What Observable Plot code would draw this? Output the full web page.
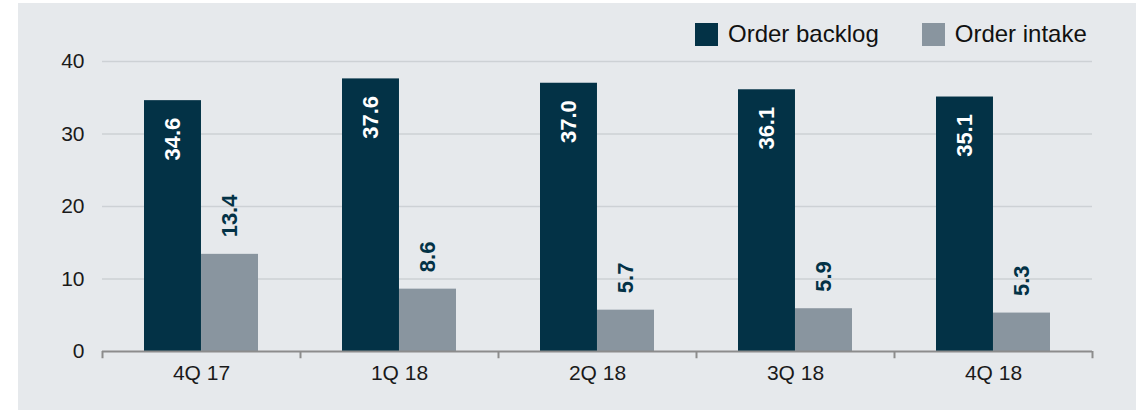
<!DOCTYPE html>
<html>
<head>
<meta charset="utf-8">
<script src="https://cdn.jsdelivr.net/npm/d3@7"></script>
<script src="https://cdn.jsdelivr.net/npm/@observablehq/plot@0.6"></script>
<style>
  html, body { margin: 0; padding: 0; background: #ffffff; }
  #box { position: absolute; left: 18px; top: 3px; width: 1118px; height: 407px; background: #e6e9ec; font-family: "Liberation Sans", Arial, sans-serif; }
  #legend { position: absolute; left: 677px; top: 17px; display: flex; align-items: center; font-size: 24px; color: #111; }
  .item { display: flex; align-items: center; margin-right: 43px; }
  .sw { width: 23px; height: 23px; margin-right: 10px; }
  #chart { position: absolute; left: 0; top: 0; }
</style>
</head>
<body>
<div id="box">
  <div id="chart"></div>
  <div id="legend"></div>
</div>
<script>
const categories = ["4Q 17", "1Q 18", "2Q 18", "3Q 18", "4Q 18"];
const seriesNames = ["Order backlog", "Order intake"];
const backlog = [34.6, 37.6, 37.0, 36.1, 35.1];
const intake = [13.4, 8.6, 5.7, 5.9, 5.3];
const yTicks = [0, 10, 20, 30, 40];
const colors = ["#033246", "#89959f"];

const W = 1118, H = 407, ML = 84, MR = 44, MT = 58, MB = 59;
const step = (W - ML - MR) / categories.length;
const barW = step * 0.576 / 2;

const backRows = categories.map((c, i) => ({cat: c, v: backlog[i]}));
const inRows = categories.map((c, i) => ({cat: c, v: intake[i]}));
const lastCat = [categories[categories.length - 1]];

const font = '"Liberation Sans", Arial, sans-serif';

const chart = Plot.plot({
  width: W, height: H,
  marginLeft: ML, marginRight: MR, marginTop: MT, marginBottom: MB,
  style: {background: "transparent", fontFamily: font, fontSize: "21px", color: "#1a1a1a", overflow: "visible"},
  x: {domain: categories, paddingInner: 0.424, paddingOuter: 0.212, label: null, tickSize: 0, tickPadding: 14},
  y: {domain: [0, 40], ticks: yTicks, label: null, tickSize: 0, tickPadding: 18},
  marks: [
    Plot.gridY(yTicks.filter(t => t > 0), {stroke: "#cdd1d5", strokeOpacity: 1, strokeWidth: 1.6}),
    Plot.barY(backRows, {x: "cat", y: "v", fill: colors[0], insetRight: barW, insetLeft: 0}),
    Plot.barY(inRows, {x: "cat", y: "v", fill: colors[1], insetLeft: barW, insetRight: 0}),
    Plot.ruleY([0], {stroke: "#8c8c8c", strokeWidth: 2}),
    Plot.ruleX(categories, {x: d => d, y1: 0, y2: -1, dx: -step / 2, stroke: "#8c8c8c", strokeWidth: 2}),
    Plot.ruleX(lastCat, {x: d => d, y1: 0, y2: -1, dx: step / 2, stroke: "#8c8c8c", strokeWidth: 2}),
    Plot.text(backRows, {x: "cat", y: "v", text: d => d.v.toFixed(1), rotate: -90, textAnchor: "end",
      dx: -barW / 2, dy: 17, fill: "#ffffff", fontWeight: "bold", fontSize: 22}),
    Plot.text(inRows, {x: "cat", y: "v", text: d => d.v.toFixed(1), rotate: -90, textAnchor: "start",
      dx: barW / 2, dy: -17, fill: colors[0], fontWeight: "bold", fontSize: 22})
  ]
});
document.getElementById("chart").appendChild(chart);

const legend = document.getElementById("legend");
seriesNames.forEach((name, i) => {
  const item = document.createElement("div");
  item.className = "item";
  const sw = document.createElement("div");
  sw.className = "sw";
  sw.style.background = colors[i];
  const label = document.createElement("span");
  label.textContent = name;
  item.appendChild(sw);
  item.appendChild(label);
  legend.appendChild(item);
});
</script>
</body>
</html>
